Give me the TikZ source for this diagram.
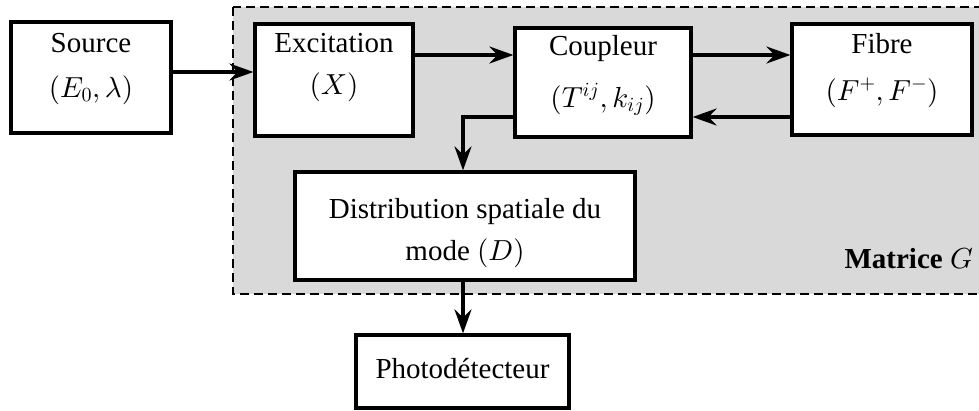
\documentclass[tikz,border=0pt]{standalone}
\usepackage[no-math]{fontspec}
\setmainfont{Liberation Serif}
\DeclareFontShape{OML}{cmm}{m}{it}{<->cmmi10}{}
\DeclareFontShape{OMS}{cmsy}{m}{n}{<->cmsy10}{}
\DeclareFontShape{OMX}{cmex}{m}{n}{<->cmex10}{}
\DeclareFontShape{OT1}{cmr}{m}{n}{<->cmr10}{}
\DeclareMathSizes{29}{29}{20}{15}
\usetikzlibrary{arrows.meta}
\tikzset{
  box/.style={draw=black, line width=3.2pt, fill=white, inner sep=0pt},
  txt/.style={inner sep=0pt, anchor=base, font=\fontsize{29}{35}\selectfont},
  arr/.style={line width=3.2pt, -{Stealth[length=24pt, width=17pt, inset=8pt]}},
  zone/.style={fill=gray!30, draw=black, line width=2pt, dash pattern=on 9pt off 5pt}
}
\begin{document}
\begin{tikzpicture}[x=1pt,y=1pt]
\useasboundingbox (0,0) rectangle (979,-410);
% zone
\path[zone] (233,-7) rectangle (1000,-294);
% boxes
\node[box, minimum width=160pt, minimum height=111pt] (src) at (91,-77.5) {};
\node[box, minimum width=158pt, minimum height=112pt] (exc) at (334,-80) {};
\node[box, minimum width=176pt, minimum height=109pt] (coup) at (603,-82.5) {};
\node[box, minimum width=180pt, minimum height=111pt] (fib) at (882,-79.5) {};
\node[box, minimum width=340pt, minimum height=108pt] (dist) at (465,-226) {};
\node[box, minimum width=213pt, minimum height=73pt] (pho) at (462.5,-371.5) {};
% texts
\node[txt] (srct) at (91,-52) {Source};
\node[txt] (srcm) at (91,-97) {$\bigl(E_{0},\lambda\bigr)$};
\node[txt] (exct) at (334,-52) {Excitation};
\node[txt] (excm) at (334,-94) {$\bigl(X\bigr)$};
\node[txt] (coupt) at (603,-55) {Coupleur};
\node[txt] (coupm) at (603,-107) {$\bigl(T^{ij},k_{ij}\bigr)$};
\node[txt] (fibt) at (882,-53) {Fibre};
\node[txt] (fibm) at (882,-100) {$\bigl(F^{+},F^{-}\bigr)$};
\node[txt] (dist1) at (465,-218) {Distribution spatiale du};
\node[txt] (dist2) at (465,-260) {mode $\bigl(D\bigr)$};
\node[txt] (phot) at (462.5,-378) {Photodétecteur};
\node[txt, anchor=base east] (mat) at (973,-268) {\textbf{Matrice} $G$};
% connectors
\draw[arr] (src.east |- 0,-72) -- (exc.west |- 0,-72);
\draw[arr] (exc.east |- 0,-55) -- (coup.west |- 0,-55);
\draw[arr] (coup.east |- 0,-55) -- (fib.west |- 0,-55);
\draw[arr] (fib.west |- 0,-117) -- (coup.east |- 0,-117);
\draw[arr] (coup.west |- 0,-117) -| (dist.north -| 463,0);
\draw[arr] (dist.south -| 463,0) -- (pho.north -| 463,0);
\end{tikzpicture}
\end{document}
